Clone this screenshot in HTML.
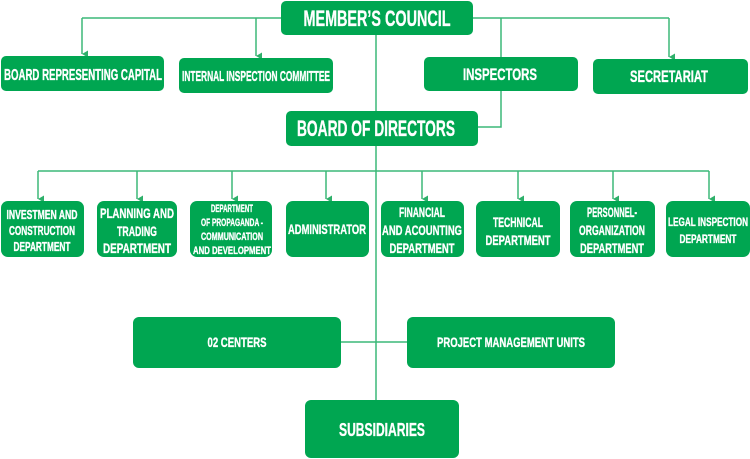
<!DOCTYPE html>
<html><head><meta charset="utf-8"><style>
html,body{margin:0;padding:0;background:#fff;}
svg{display:block;}
text{font-family:"Liberation Sans",sans-serif;font-weight:bold;fill:#fff;text-anchor:middle;stroke:#fff;stroke-width:0.35;}
</style></head><body>
<svg width="750" height="459" viewBox="0 0 750 459" xmlns="http://www.w3.org/2000/svg">
<defs><marker id="a" markerWidth="8" markerHeight="8" refX="4" refY="7" orient="auto" markerUnits="userSpaceOnUse"><path d="M0.5,1 L4,7 L7.5,1 Z" fill="#2eb06a"/></marker></defs>
<g stroke="#3cb878" stroke-width="1.5" fill="none">
<path d="M82,18 H669"/>
<path d="M82,18 V54" marker-end="url(#a)"/>
<path d="M256,18 V56" marker-end="url(#a)"/>
<path d="M669,18 V57" marker-end="url(#a)"/>
<path d="M501,18 V127 H478"/>
<path d="M376,35 V400"/>
<path d="M38,171 H709"/>
<path d="M38,171 V199" marker-end="url(#a)"/>
<path d="M137,171 V199" marker-end="url(#a)"/>
<path d="M232,171 V199" marker-end="url(#a)"/>
<path d="M326,171 V199" marker-end="url(#a)"/>
<path d="M422,171 V199" marker-end="url(#a)"/>
<path d="M518,171 V199" marker-end="url(#a)"/>
<path d="M613,171 V199" marker-end="url(#a)"/>
<path d="M709,171 V199" marker-end="url(#a)"/>
<path d="M341,342 H407"/>
</g>
<g fill="#00a651">
<rect x="281" y="1" width="192" height="34" rx="5"/>
<rect x="1" y="56" width="163" height="35" rx="5"/>
<rect x="179" y="58" width="154" height="35" rx="5"/>
<rect x="424" y="57" width="154" height="34" rx="5"/>
<rect x="593" y="59" width="155" height="35" rx="5"/>
<rect x="286" y="111" width="192" height="35" rx="5"/>
<rect x="1" y="201" width="83" height="56" rx="7"/>
<rect x="97" y="201" width="80" height="56" rx="7"/>
<rect x="190" y="201" width="82" height="56" rx="7"/>
<rect x="286" y="201" width="83" height="56" rx="7"/>
<rect x="381" y="201" width="83" height="56" rx="7"/>
<rect x="476" y="201" width="84" height="56" rx="7"/>
<rect x="570" y="201" width="85" height="56" rx="7"/>
<rect x="666" y="201" width="84" height="56" rx="7"/>
<rect x="133" y="317" width="208" height="51" rx="6"/>
<rect x="407" y="317" width="208" height="51" rx="6"/>
<rect x="305" y="400" width="154" height="58" rx="6"/>
</g>
<g>
<text x="377" y="26" font-size="22" textLength="147" lengthAdjust="spacingAndGlyphs">MEMBER’S COUNCIL</text>
<text x="83" y="80" font-size="16" textLength="158" lengthAdjust="spacingAndGlyphs">BOARD REPRESENTING CAPITAL</text>
<text x="256" y="81" font-size="15" textLength="148" lengthAdjust="spacingAndGlyphs">INTERNAL INSPECTION COMMITTEE</text>
<text x="500" y="80" font-size="17" textLength="74" lengthAdjust="spacingAndGlyphs">INSPECTORS</text>
<text x="669" y="82" font-size="17" textLength="78" lengthAdjust="spacingAndGlyphs">SECRETARIAT</text>
<text x="376" y="136" font-size="22" textLength="158" lengthAdjust="spacingAndGlyphs">BOARD OF DIRECTORS</text>

<g font-size="12.5">
<text x="42" y="219" textLength="71" lengthAdjust="spacingAndGlyphs">INVESTMEN AND</text>
<text x="42" y="235" textLength="66" lengthAdjust="spacingAndGlyphs">CONSTRUCTION</text>
<text x="42" y="251" textLength="57" lengthAdjust="spacingAndGlyphs">DEPARTMENT</text>
</g>
<g font-size="14">
<text x="137" y="218" textLength="74" lengthAdjust="spacingAndGlyphs">PLANNING AND</text>
<text x="137" y="236" textLength="40" lengthAdjust="spacingAndGlyphs">TRADING</text>
<text x="137" y="253" textLength="68" lengthAdjust="spacingAndGlyphs">DEPARTMENT</text>
</g>
<g font-size="11">
<text x="232" y="212" textLength="42" lengthAdjust="spacingAndGlyphs">DEPARTMENT</text>
<text x="232" y="226" textLength="62" lengthAdjust="spacingAndGlyphs">OF PROPAGANDA -</text>
<text x="232" y="240" textLength="62" lengthAdjust="spacingAndGlyphs">COMMUNICATION</text>
<text x="232" y="254" textLength="78" lengthAdjust="spacingAndGlyphs">AND DEVELOPMENT</text>
</g>
<text x="327" y="234" font-size="14" textLength="78" lengthAdjust="spacingAndGlyphs">ADMINISTRATOR</text>
<g font-size="14">
<text x="422" y="217" textLength="46" lengthAdjust="spacingAndGlyphs">FINANCIAL</text>
<text x="422" y="235" textLength="80" lengthAdjust="spacingAndGlyphs">AND ACOUNTING</text>
<text x="422" y="253" textLength="65" lengthAdjust="spacingAndGlyphs">DEPARTMENT</text>
</g>
<g font-size="14">
<text x="518" y="227" textLength="50" lengthAdjust="spacingAndGlyphs">TECHNICAL</text>
<text x="518" y="245" textLength="65" lengthAdjust="spacingAndGlyphs">DEPARTMENT</text>
</g>
<g font-size="14">
<text x="612" y="217" textLength="50" lengthAdjust="spacingAndGlyphs">PERSONNEL-</text>
<text x="612" y="235" textLength="66" lengthAdjust="spacingAndGlyphs">ORGANIZATION</text>
<text x="612" y="253" textLength="64" lengthAdjust="spacingAndGlyphs">DEPARTMENT</text>
</g>
<g font-size="12">
<text x="708" y="226" textLength="80" lengthAdjust="spacingAndGlyphs">LEGAL INSPECTION</text>
<text x="708" y="243" textLength="57" lengthAdjust="spacingAndGlyphs">DEPARTMENT</text>
</g>
<text x="237" y="347" font-size="14" textLength="59" lengthAdjust="spacingAndGlyphs">02 CENTERS</text>
<text x="511" y="347" font-size="14" textLength="148" lengthAdjust="spacingAndGlyphs">PROJECT MANAGEMENT UNITS</text>
<text x="382" y="436" font-size="18" textLength="86" lengthAdjust="spacingAndGlyphs">SUBSIDIARIES</text>
</g>
</svg>
</body></html>
